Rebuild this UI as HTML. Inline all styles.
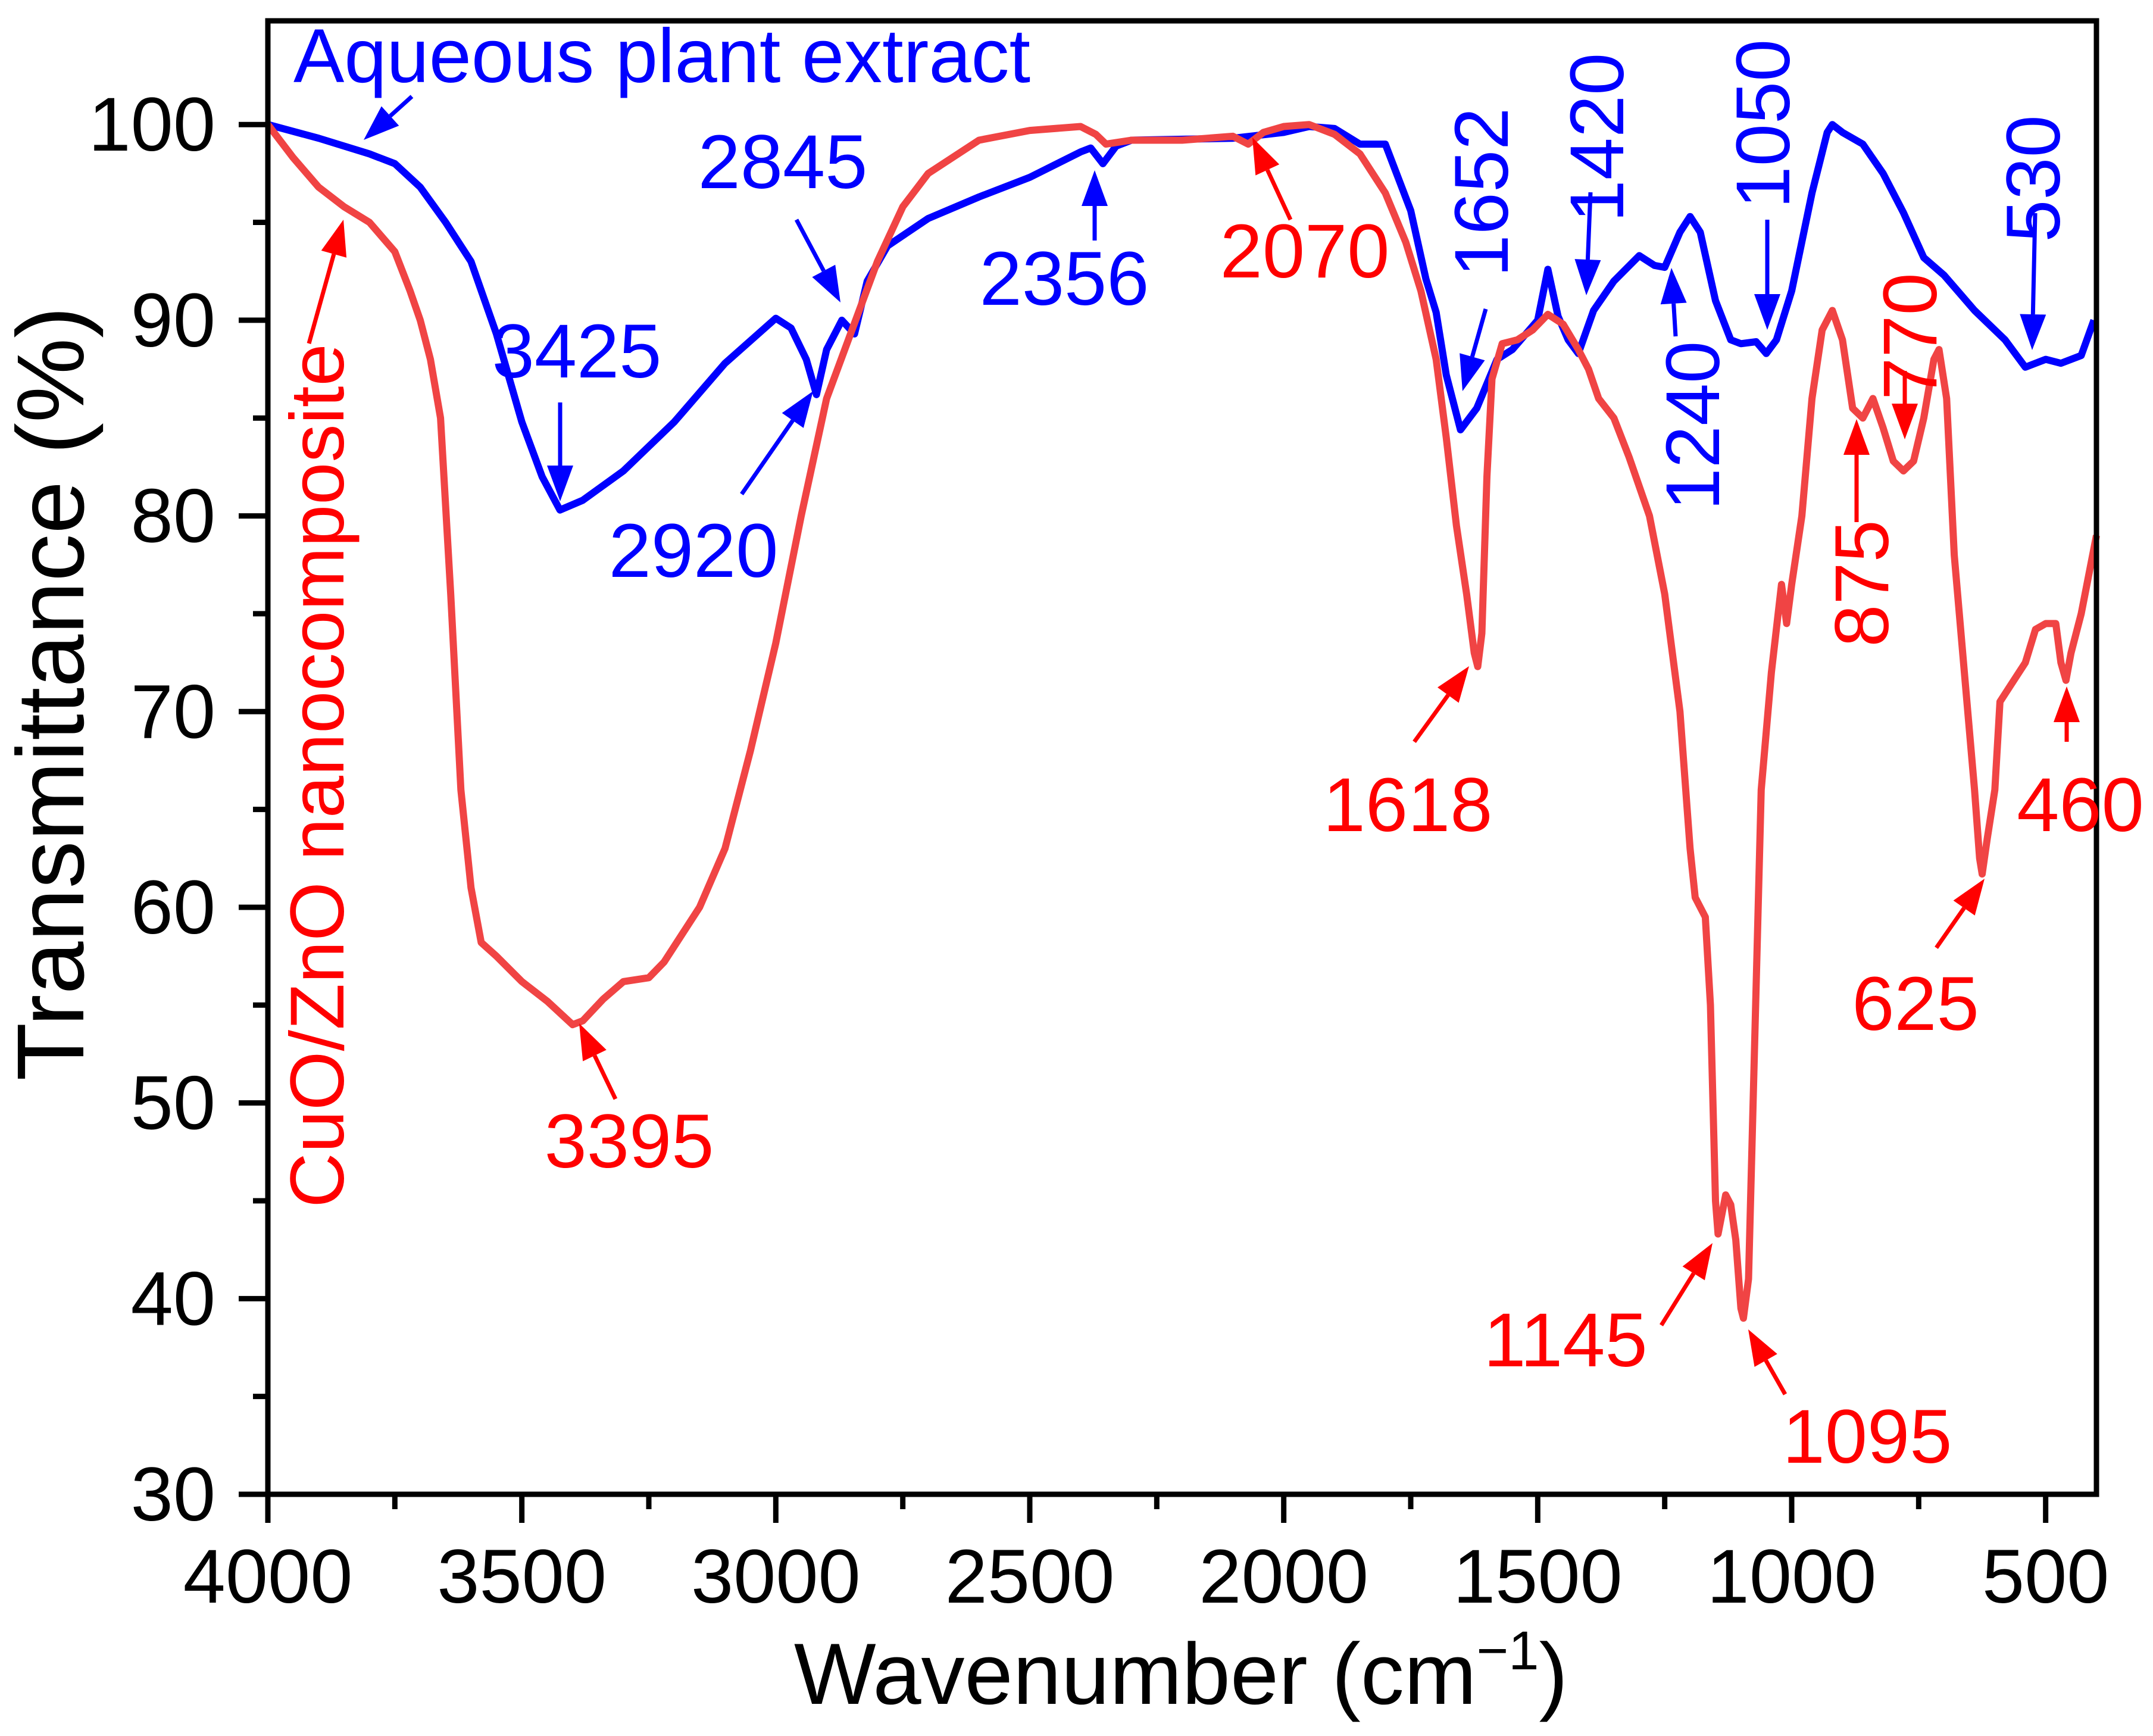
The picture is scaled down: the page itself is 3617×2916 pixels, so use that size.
<!DOCTYPE html>
<html><head><meta charset="utf-8"><style>
html,body{margin:0;padding:0;background:#fff;}
svg{display:block;font-family:"Liberation Sans",Arial,sans-serif;}
</style></head><body>
<svg id="chart" width="3617" height="2916" viewBox="0 0 3617 2916" xmlns="http://www.w3.org/2000/svg">
<g id="plot"></g>
</svg>
<script>
const xTicks=[4000,3500,3000,2500,2000,1500,1000,500];
const yTicks=[30,40,50,60,70,80,90,100];
const plantWave=[4000,3900,3800,3750,3700,3650,3600,3550,3500,3460,3425,3380,3300,3200,3100,3000,2970,2940,2920,2900,2870,2845,2820,2780,2700,2600,2500,2400,2380,2356,2330,2300,2100,2000,1950,1900,1850,1800,1750,1720,1700,1680,1652,1620,1580,1550,1500,1480,1460,1440,1420,1390,1350,1300,1270,1250,1220,1200,1180,1150,1120,1100,1070,1050,1030,1000,960,930,920,900,860,820,780,740,700,640,580,540,520,500,470,430,405];
const plantT=[100,99.3,98.5,98.0,96.8,95.0,93.0,89.3,84.8,82.0,80.3,80.8,82.3,84.8,87.8,90.1,89.6,88.0,86.2,88.5,90.0,89.3,92.0,93.8,95.2,96.3,97.3,98.6,98.8,98.0,98.9,99.2,99.3,99.6,99.9,99.8,99.0,99.0,95.6,92.1,90.4,87.2,84.4,85.5,88.0,88.5,90.0,92.6,90.2,89.0,88.3,90.5,92.0,93.3,92.8,92.7,94.5,95.3,94.5,91.0,89.0,88.8,88.9,88.3,89.0,91.5,96.5,99.6,100,99.6,99.0,97.5,95.5,93.2,92.3,90.5,89.0,87.6,87.8,88.0,87.8,88.2,90.0];
const compWave=[4000,3950,3900,3850,3800,3750,3720,3700,3680,3660,3640,3620,3600,3580,3550,3500,3450,3400,3380,3340,3300,3250,3220,3150,3100,3050,3000,2950,2900,2850,2800,2750,2700,2600,2500,2400,2370,2350,2300,2200,2100,2070,2040,2000,1950,1900,1850,1800,1760,1730,1700,1680,1660,1640,1625,1618,1610,1600,1590,1570,1540,1510,1480,1450,1420,1400,1380,1350,1320,1280,1250,1220,1200,1190,1170,1160,1150,1145,1130,1120,1110,1100,1095,1085,1070,1060,1040,1020,1010,1000,980,960,940,920,900,880,860,840,820,800,780,760,740,720,710,695,680,660,640,630,625,615,600,590,570,540,520,500,480,470,460,450,430,400];
const compT=[100,98.3,96.8,95.8,95.0,93.5,91.5,90.0,88,85,76,66,61,58.2,57.5,56.2,55.2,54.0,54.2,55.3,56.2,56.4,57.2,60,63,68,73.5,80,86,89.5,93,95.8,97.5,99.2,99.7,99.9,99.5,99.0,99.2,99.2,99.4,99.0,99.6,99.9,100,99.5,98.5,96.5,94,91.5,88.0,84,79.5,76,73,72.3,74,82,87,88.8,89.0,89.5,90.3,89.8,88.5,87.5,86.0,85,83,80,76,70,63,60.5,59.5,55,45,43.3,45.3,44.8,43,39.5,39.0,41,56,66,72,76.5,74.5,76.5,80,86,89.5,90.5,89,85.5,85,86,84.5,82.8,82.3,82.8,85,88,88.5,86,78,72,66,62.5,61.7,63.5,66,70.5,71.3,72.5,74.2,74.5,74.5,72.5,71.6,73,75,79];

const NS='http://www.w3.org/2000/svg';
const L=450,R=3522,T=35,B=2510,XMAX=4000,XMIN=400,YMIN=30,YMAX=105.3;
const sx=w=>L+(XMAX-w)/(XMAX-XMIN)*(R-L);
const sy=v=>B-(v-YMIN)/(YMAX-YMIN)*(B-T);
const g=document.getElementById('plot');
function mk(tag,at,parent){const e=document.createElementNS(NS,tag);for(const k in at)e.setAttribute(k,at[k]);(parent||g).appendChild(e);return e;}

function series(ws,ts,color,name){
  let d='';ws.forEach((w,i)=>{d+=(i?'L':'M')+sx(w).toFixed(1)+' '+sy(ts[i]).toFixed(1);});
  const p=mk('path',{d:d,fill:'none',stroke:color,'stroke-width':12,'stroke-linejoin':'round'});
  
  
}
series(plantWave,plantT,'#0000ff','plant-extract-line');
series(compWave,compT,'#f04444','cuo-zno-line');

const fr=mk('rect',{x:L,y:T,width:R-L,height:B-T,fill:'none',stroke:'#000','stroke-width':9});



for(let w=4000;w>=500;w-=250){
  const major=w%500===0;
  const t=mk('line',{x1:sx(w),x2:sx(w),y1:B,y2:B+(major?48:25),stroke:'#000','stroke-width':9});
  
  
}
xTicks.forEach(w=>{
  const t=mk('text',{x:sx(w),y:2692,'font-size':128,'text-anchor':'middle',fill:'#000'});
  t.textContent=w;
  
  
});
for(let v=30;v<=100;v+=5){
  const major=v%10===0;
  const t=mk('line',{x1:L,x2:L-(major?49:25),y1:sy(v),y2:sy(v),stroke:'#000','stroke-width':9});
  
  
}
yTicks.forEach(v=>{
  const t=mk('text',{x:362,y:sy(v)+44,'font-size':128,'text-anchor':'end',fill:'#000'});
  t.textContent=v;
  
  
});
const yt=mk('text',{x:0,y:0,'font-size':160,'text-anchor':'middle',transform:'translate(140,1165) rotate(-90)',fill:'#000'});
yt.textContent='Transmittance (%)';


const xt=mk('text',{x:1984,y:2862,'font-size':146,'text-anchor':'middle',fill:'#000'});
xt.innerHTML='Wavenumber (cm<tspan dy="-58" font-size="92">−1</tspan><tspan dy="58">)</tspan>';



function arrow(x1,y1,x2,y2,color){
  const a=Math.atan2(y2-y1,x2-x1),hl=60,hw=22;
  const bx=x2-hl*Math.cos(a),by=y2-hl*Math.sin(a);
  const ln=mk('line',{x1:x1,y1:y1,x2:bx,y2:by,stroke:color,'stroke-width':7});
  
  
  const px=-Math.sin(a)*hw,py=Math.cos(a)*hw;
  const h=mk('polygon',{points:`${x2},${y2} ${bx+px},${by+py} ${bx-px},${by-py}`,fill:color});
  
  
}
function label(txt,x,y,color,rot,name){
  const at={x:0,y:0,'font-size':128,'text-anchor':'middle',fill:color};
  at.transform=rot?`translate(${x},${y}) rotate(-90) translate(0,46)`:`translate(${x},${y})`;
  const t=mk('text',at);t.textContent=txt;
  
  
}
const B_='#0000ff',R_='#ff0000';
label('Aqueous plant extract',1112,138,B_,false,'plant-extract-label');arrow(692,162,611,235,B_);
label('3425',969,634,B_,false,'peak-3425');arrow(941,676,941,842,B_);
label('2920',1165,969,B_,false,'peak-2920');arrow(1246,830,1366,657,B_);
label('2845',1315,316,B_,false,'peak-2845');arrow(1338,369,1412,508,B_);
label('2356',1788,512,B_,false,'peak-2356');arrow(1839,404,1839,286,B_);
label('2070',2192,466,R_,false,'peak-2070');arrow(2168,369,2104,231,R_);
label('1652',2487,323,B_,true,'peak-1652');arrow(2496,519,2457,657,B_);
label('1420',2681,231,B_,true,'peak-1420');arrow(2672,323,2665,496,B_);
label('1240',2842,715,B_,true,'peak-1240');arrow(2815,565,2808,450,B_);
label('1050',2960,208,B_,true,'peak-1050');arrow(2969,369,2969,554,B_);
label('530',3414,300,B_,true,'peak-530');arrow(3419,358,3414,588,B_);
label('770',3207,565,R_,true,'peak-770');arrow(3200,623,3200,738,R_);
label('875',3126,980,R_,true,'peak-875');arrow(3119,877,3119,704,R_);
label('1618',2365,1396,R_,false,'peak-1618');arrow(2376,1246,2468,1119,R_);
label('1145',2630,2295,R_,false,'peak-1145');arrow(2791,2226,2877,2088,R_);
label('1095',3137,2457,R_,false,'peak-1095');arrow(2999,2342,2937,2233,R_);
label('625',3218,1730,R_,false,'peak-625');arrow(3253,1592,3334,1476,R_);
label('460',3495,1396,R_,false,'peak-460');arrow(3472,1246,3472,1153,R_);
label('3395',1057,1961,R_,false,'peak-3395');arrow(1034,1846,973,1719,R_);
label('CuO/ZnO nanocomposite',531,1303,R_,true,'cuo-zno-label');arrow(519,577,577,369,R_);
</script>
</body></html>
